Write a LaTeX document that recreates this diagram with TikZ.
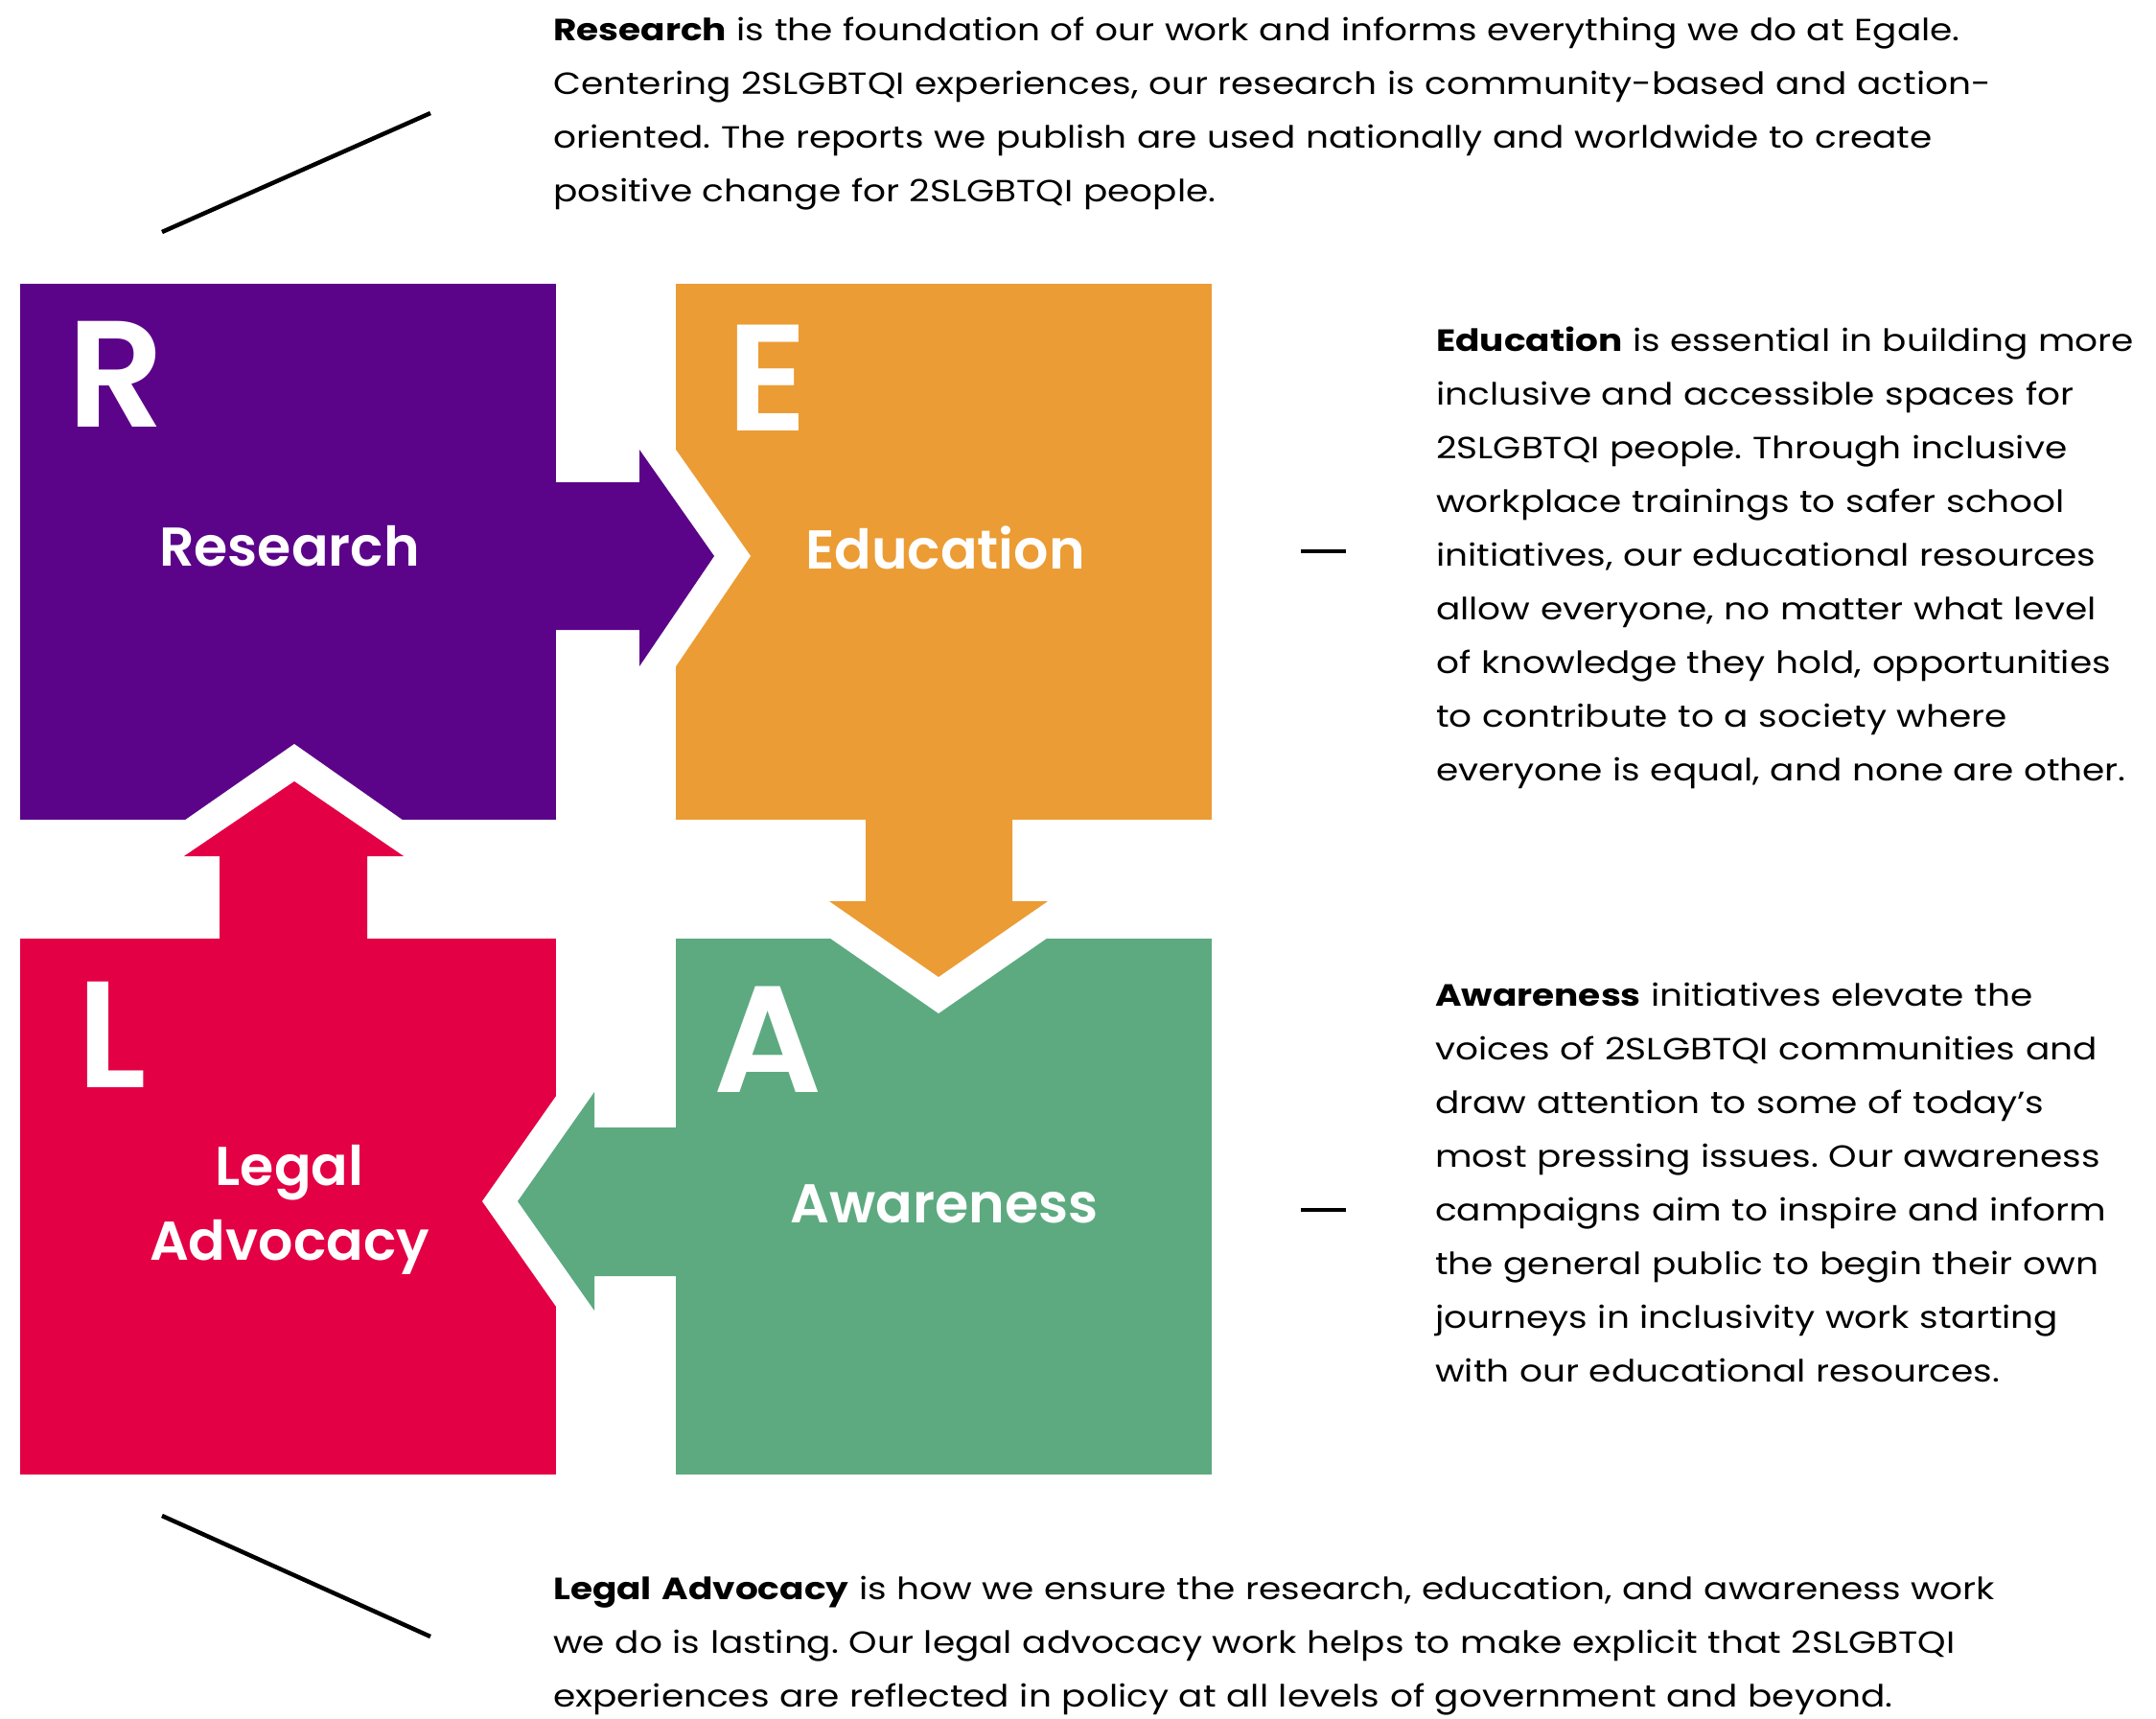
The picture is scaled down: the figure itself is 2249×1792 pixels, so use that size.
\documentclass[tikz,border=0pt]{standalone}
\usepackage{fontspec}
\setmainfont{Poppins}[FakeStretch=1.17]
\newfontfamily\semifont{Poppins SemiBold}
\usetikzlibrary{positioning}

\definecolor{respurple}{HTML}{5B0489}
\definecolor{eduorange}{HTML}{EC9C34}
\definecolor{awagreen}{HTML}{5DAA80}
\definecolor{legred}{HTML}{E30045}

\frenchspacing
\begin{document}
\begin{tikzpicture}[x=1pt,y=-1pt,
    block/.style={rectangle,minimum size=559pt,inner sep=0pt,draw=none},
    letter/.style={anchor=base west,inner sep=0pt,text=white,
                   font=\semifont\fontsize{158}{158}\selectfont},
    boxtitle/.style={anchor=base,inner sep=0pt,text=white,
                     font=\semifont\fontsize{57}{78}\selectfont},
    blurb/.style={anchor=base west,inner sep=0pt,align=left,text width=1000pt,
                  font=\fontsize{32}{56}\selectfont},
    guide/.style={line width=4.5pt}]

  \useasboundingbox (0,0) rectangle (2249,1792);

  % the four squares
  \node[block,fill=respurple] (R) at (300.5,575) {};
  \node[block,fill=eduorange] (E) at (984.5,575) {};
  \node[block,fill=legred]    (L) at (300.5,1258.5) {};
  \node[block,fill=awagreen]  (A) at (984.5,1258.5) {};

  % white notches cut by the arrow heads
  \fill[white] (705,469) -- (783,580) -- (705,695) -- cycle;
  \fill[white] (865,978) -- (979,1057) -- (1093,978) -- cycle;
  \fill[white] (583,1139) -- (503,1253) -- (583,1367) -- cycle;
  \fill[white] (192,856) -- (307,776) -- (421,856) -- cycle;

  % block arrows
  \fill[respurple] (575,503) -- (667,503) -- (667,469) -- (745,580)
        -- (667,695) -- (667,657) -- (575,657) -- cycle;
  \fill[eduorange] (903,850) -- (903,940) -- (865,940) -- (979,1019)
        -- (1093,940) -- (1056,940) -- (1056,850) -- cycle;
  \fill[awagreen] (710,1176) -- (620,1176) -- (620,1139) -- (540,1253)
        -- (620,1367) -- (620,1331) -- (710,1331) -- cycle;
  \fill[legred] (229,984) -- (229,893) -- (192,893) -- (307,815)
        -- (421,893) -- (383,893) -- (383,984) -- cycle;

  % letters and titles
  \node[letter] (Rl) at (70,445) {R};
  \node[letter] (El) at (758,449) {E};
  \node[letter] (Ll) at (80,1134) {L};
  \node[letter] (Al) at (744,1139) {A};

  \node[boxtitle] (Rt) at (302,590) {Research};
  \node[boxtitle] (Et) at (986,593) {Education};
  \node[boxtitle] (Lt) at (302,1236) {Legal};
  \node[boxtitle] (Lt2) at (302,1314) {Advocacy};
  \node[boxtitle] (At) at (985,1275) {Awareness};

  % pointer lines
  \coordinate (rp1) at (169,242);
  \coordinate (rp2) at (449,118);
  \coordinate (lp1) at (169,1581);
  \coordinate (lp2) at (449,1707);
  \coordinate (ep1) at (1357,575);
  \coordinate (ep2) at (1404,575);
  \coordinate (ap1) at (1357,1262);
  \coordinate (ap2) at (1404,1262);
  \draw[guide] (rp1) -- (rp2);
  \draw[guide] (lp1) -- (lp2);
  \draw[guide] (ep1) -- (ep2);
  \draw[guide] (ap1) -- (ap2);

  % descriptions
  \node[blurb,text width=1600pt] (Rtxt) at (577,42)
    {\textbf{Research} is the foundation of our work and informs everything we do at Egale.\\
     Centering 2SLGBTQI experiences, our research is community-based and action-\\
     oriented. The reports we publish are used nationally and worldwide to create\\
     positive change for 2SLGBTQI people.};
  \node[blurb] (Etxt) at (1498,366)
    {\textbf{Education} is essential in building more\\
     inclusive and accessible spaces for\\
     2SLGBTQI people. Through inclusive\\
     workplace trainings to safer school\\
     initiatives, our educational resources\\
     allow everyone, no matter what level\\
     of knowledge they hold, opportunities\\
     to contribute to a society where\\
     everyone is equal, and none are other.};
  \node[blurb] (Atxt) at (1497,1049)
    {\textbf{Awareness} initiatives elevate the\\
     voices of 2SLGBTQI communities and\\
     draw attention to some of today’s\\
     most pressing issues. Our awareness\\
     campaigns aim to inspire and inform\\
     the general public to begin their own\\
     journeys in inclusivity work starting\\
     with our educational resources.};
  \node[blurb,text width=1600pt] (Ltxt) at (577,1668)
    {\textbf{Legal Advocacy} is how we ensure the research, education, and awareness work\\
     we do is lasting. Our legal advocacy work helps to make explicit that 2SLGBTQI\\
     experiences are reflected in policy at all levels of government and beyond.};
\end{tikzpicture}
\end{document}
